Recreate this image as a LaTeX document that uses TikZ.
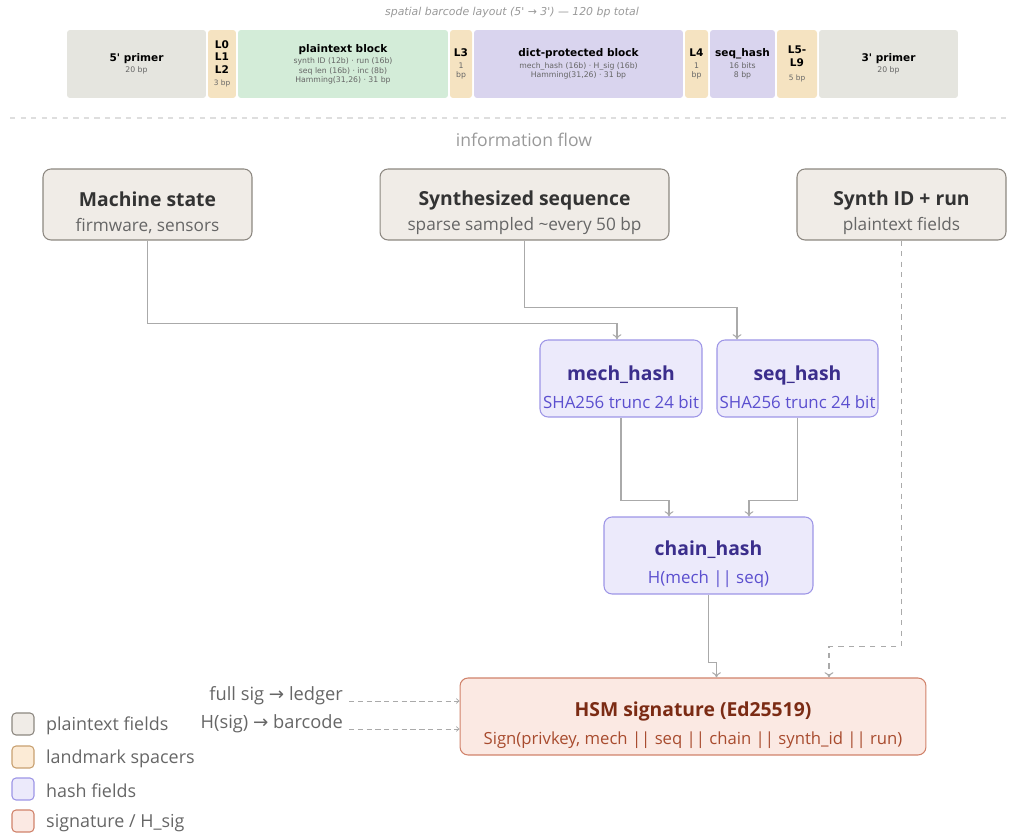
\documentclass[tikz,border=0pt]{standalone}
\usepackage{fontspec}
\setmainfont{Open Sans}
\newfontfamily\bcfont{DejaVu Sans}
\newfontfamily\symfont{DejaVu Sans}
\usetikzlibrary{arrows.meta,positioning}

\definecolor{primerfill}{HTML}{E5E5DF}
\definecolor{markfill}{HTML}{F5E3C1}
\definecolor{plainblock}{HTML}{D3ECD8}
\definecolor{dictfill}{HTML}{D9D4EE}
\definecolor{bcsub}{HTML}{666666}
\definecolor{plainfill}{HTML}{F0ECE7}
\definecolor{plaindraw}{HTML}{8C8780}
\definecolor{plaintext}{HTML}{333333}
\definecolor{plainsub}{HTML}{666666}
\definecolor{hashfill}{HTML}{ECEAFB}
\definecolor{hashdraw}{HTML}{9D95E6}
\definecolor{hashtitle}{HTML}{3B2E8C}
\definecolor{hashsub}{HTML}{5B4FCF}
\definecolor{sigfill}{HTML}{FBE9E3}
\definecolor{sigdraw}{HTML}{D0826A}
\definecolor{sigtitle}{HTML}{7B2B14}
\definecolor{sigsub}{HTML}{A84B2E}
\definecolor{legmarkfill}{HTML}{FCEBD6}
\definecolor{legmarkdraw}{HTML}{C8A070}
\definecolor{linegray}{HTML}{AAAAAA}
\definecolor{captiongray}{HTML}{999999}

\newcommand{\bct}[1]{{\bfseries\fontsize{6}{7}\selectfont #1}}
\newcommand{\bcl}[1]{{\bfseries\fontsize{6}{7}\selectfont #1}}
\newcommand{\fttl}[1]{{\bfseries\fontsize{11}{13}\selectfont\rule{0pt}{18pt}#1}}

\begin{document}
\begin{tikzpicture}[x=0.02cm,y=-0.02cm]
  \tikzset{seg/.style = {rounded corners=0.06cm, minimum height=1.36cm, inner sep=0pt,
                         align=center, text=black,
                         font=\bcfont\fontsize{4.4}{5.2}\selectfont},
           segl/.style = {seg, font=\bcfont\fontsize{4.2}{7}\selectfont},
           flowbox/.style = {draw, rounded corners=0.16cm, line width=0.6pt, align=center,
                             inner sep=0pt, minimum height=1.54cm},
           plainbox/.style = {flowbox, fill=plainfill, draw=plaindraw, text=plainsub,
                              minimum height=1.42cm, font=\fontsize{9.8}{14.5}\selectfont},
           hashbox/.style = {flowbox, fill=hashfill, draw=hashdraw, text=hashsub,
                             font=\fontsize{9.6}{16}\selectfont},
           sigbox/.style = {flowbox, fill=sigfill, draw=sigdraw, text=sigsub,
                            font=\fontsize{9.5}{16}\selectfont},
           flow/.style = {draw=linegray, line width=0.6pt, -{To[length=3pt,width=5pt]}},
           dflow/.style = {flow, dashed},
           side/.style = {flow, densely dashed, line width=0.4pt, -{To[length=2pt,width=3pt]}},
           legbox/.style = {draw, rounded corners=0.08cm, line width=0.6pt, minimum size=0.44cm},
           legtext/.style = {anchor=west, text=plainsub, font=\fontsize{10.2}{12}\selectfont}}

  \useasboundingbox (0,0) rectangle (1019,834);

  % barcode layout
  \node[text=captiongray, font=\bcfont\itshape\fontsize{6.2}{7}\selectfont] (bctitle) at (512,12)
       {spatial barcode layout (5' → 3') — 120 bp total};
  \node[seg, fill=primerfill, minimum width=2.78cm] (p5) at (136.5,64)
       {\bct{5' primer}\\[1pt]{\color{bcsub}20 bp}};
  \node[segl, fill=markfill, minimum width=0.56cm] (l02) at (222,64)
       {\bcl{L0}\\\bcl{L1}\\\bcl{L2}\\{\color{bcsub}3 bp}};
  \node[seg, fill=plainblock, minimum width=4.2cm] (ptb) at (343,64)
       {\bct{plaintext block}\\[1.5pt]{\color{bcsub}synth ID (12b) · run (16b)}\\
        {\color{bcsub}seq len (16b) · inc (8b)}\\{\color{bcsub}Hamming(31,26) · 31 bp}};
  \node[seg, fill=markfill, minimum width=0.44cm] (l3) at (461,64)
       {\bcl{L3}\\[2pt]{\color{bcsub}1}\\{\color{bcsub}bp}};
  \node[seg, fill=dictfill, minimum width=4.18cm] (dpb) at (578.5,64)
       {\bct{dict-protected block}\\[1.5pt]{\color{bcsub}mech\_hash (16b) · H\_sig (16b)}\\
        {\color{bcsub}Hamming(31,26) · 31 bp}};
  \node[seg, fill=markfill, minimum width=0.46cm] (l4) at (696.5,64)
       {\bcl{L4}\\[2pt]{\color{bcsub}1}\\{\color{bcsub}bp}};
  \node[seg, fill=dictfill, minimum width=1.3cm] (shb) at (742.5,64)
       {\bct{seq\_hash}\\[1.5pt]{\color{bcsub}16 bits}\\{\color{bcsub}8 bp}};
  \node[segl, fill=markfill, minimum width=0.8cm] (l59) at (797,64)
       {\bcl{L5-}\\\bcl{L9}\\[1pt]{\color{bcsub}5 bp}};
  \node[seg, fill=primerfill, minimum width=2.78cm] (p3) at (888.5,64)
       {\bct{3' primer}\\[1pt]{\color{bcsub}20 bp}};

  \draw[draw=black!13, dashed, line width=0.6pt] (10,118) -- (1010,118);

  % information flow
  \node[text=captiongray, font=\fontsize{10}{12}\selectfont] (flowtitle) at (524,140) {information flow};

  \node[plainbox, minimum width=4.18cm] (ms) at (147.5,204.5)
       {{\color{plaintext}\fttl{Machine state}}\\firmware, sensors};
  \node[plainbox, minimum width=5.78cm] (syn) at (524.5,204.5)
       {{\color{plaintext}\fttl{Synthesized sequence}}\\sparse sampled \textasciitilde every 50 bp};
  \node[plainbox, minimum width=4.18cm] (sid) at (901.5,204.5)
       {{\color{plaintext}\fttl{Synth ID + run}}\\plaintext fields};

  \node[hashbox, minimum width=3.24cm] (mh) at (621,378.5)
       {{\color{hashtitle}\fttl{mech\_hash}}\\SHA256 trunc 24 bit};
  \node[hashbox, minimum width=3.22cm] (shh) at (797.5,378.5)
       {{\color{hashtitle}\fttl{seq\_hash}}\\SHA256 trunc 24 bit};
  \node[hashbox, minimum width=4.18cm] (ch) at (708.5,555.5)
       {{\color{hashtitle}\fttl{chain\_hash}}\\H(mech || seq)};
  \node[sigbox, minimum width=9.32cm] (hsm) at (693,716.5)
       {{\color{sigtitle}\fttl{HSM signature (Ed25519)}}\\Sign(privkey, mech || seq || chain || synth\_id || run)};

  \draw[flow] (ms.south) -- ++(0,83) -| ([xshift=-0.08cm]mh.north);
  \draw[flow] (syn.south) -- ++(0,67) -| ([xshift=-1.21cm]shh.north);
  \draw[flow] (mh.south) -- ++(0,83) -| ([xshift=-0.79cm]ch.north);
  \draw[flow] (shh.south) -- ++(0,83) -| ([xshift=0.81cm]ch.north);
  \draw[flow] (ch.south) -- ++(0,68) -| ([xshift=0.47cm]hsm.north);
  \draw[dflow] (sid.south) -- ++(0,406) -| ([xshift=2.72cm]hsm.north);

  % outputs
  \node[anchor=base east, text=plainsub, font=\fontsize{10.4}{12}\selectfont] (fsig) at (349,701)
       {full sig {\symfont →} ledger};
  \node[anchor=base east, text=plainsub, font=\fontsize{10.4}{12}\selectfont] (hsig) at (349,729)
       {H(sig) {\symfont →} barcode};
  \draw[side] (fsig.base east) -- (fsig.base east -| hsm.west);
  \draw[side] (hsig.base east) -- (hsig.base east -| hsm.west);

  % legend
  \node[legbox, fill=plainfill, draw=plaindraw] (lg1) at (23,724) {};
  \node[legbox, fill=legmarkfill, draw=legmarkdraw] (lg2) at (23,757) {};
  \node[legbox, fill=hashfill, draw=hashdraw] (lg3) at (23,789) {};
  \node[legbox, fill=sigfill, draw=sigdraw] (lg4) at (23,821) {};
  \node[legtext] at (40,726) {plaintext fields};
  \node[legtext] at (40,759) {landmark spacers};
  \node[legtext] at (40,791) {hash fields};
  \node[legtext] at (40,823) {signature / H\_sig};
\end{tikzpicture}
\end{document}
